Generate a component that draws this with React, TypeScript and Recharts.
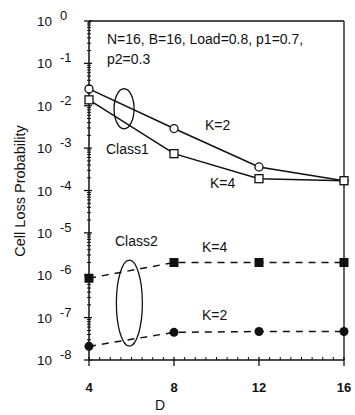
import { Line, LineChart, ReferenceDot, ReferenceLine, XAxis, YAxis } from "recharts";

// Buffer size D on the x axis
const dValues = [4, 8, 12, 16];
const dMajorTicks = [4, 8, 12, 16];

// Cell loss probability
const class1K2 = [0.025, 0.0029, 3.6e-4, 1.7e-4];
const class1K4 = [0.0138, 7.4e-4, 1.9e-4, 1.7e-4];
const class2K4 = [8.5e-7, 2.0e-6, 2.0e-6, 2.0e-6];
const class2K2 = [2.1e-8, 4.5e-8, 4.7e-8, 4.7e-8];

const yExponents = [0, -1, -2, -3, -4, -5, -6, -7, -8];

const rows = dValues.map((d, i) => ({
  d,
  c1k2: class1K2[i],
  c1k4: class1K4[i],
  c2k4: class2K4[i],
  c2k2: class2K2[i],
}));

const W = 355;
const H = 415;
const PLOT_L = 89;
const PLOT_R = 344;
const PLOT_T = 21;
const PLOT_B = 360;
const FONT = "'Liberation Sans', Arial, sans-serif";
const INK = "#111";

// log-minor positions (2..9 x 10^n) plus the decades
const yTicks: number[] = [];
yExponents.forEach((e) => {
  yTicks.push(Math.pow(10, e));
  if (e < 0) {
    for (let k = 2; k <= 9; k++) yTicks.push(k * Math.pow(10, e));
  }
});
const xTicks: number[] = [];
for (let v = 4; v <= 16; v += 0.5) xTicks.push(v);

function YTick(props: any) {
  const { y, payload } = props;
  const v = payload.value as number;
  const e = Math.round(Math.log10(v));
  const major = Math.abs(Math.log10(v) - e) < 1e-6;
  if (!major) {
    return <line x1={PLOT_L - 2} x2={PLOT_L + 2} y1={y} y2={y} stroke={INK} strokeWidth={1} />;
  }
  return (
    <g>
      <line x1={PLOT_L - 5} x2={PLOT_L + 3} y1={y} y2={y} stroke={INK} strokeWidth={1.3} />
      <text x={52} y={y + 5} textAnchor="end" fontSize={13.5} fontFamily={FONT} fill={INK}>
        10
      </text>
      <text x={60} y={y - 1} textAnchor="start" fontSize={13} fontFamily={FONT} fill={INK}>
        {e === 0 ? "0" : `-${-e}`}
      </text>
    </g>
  );
}

function XTick(props: any) {
  const { x, payload } = props;
  const v = payload.value as number;
  if (!dMajorTicks.includes(v)) {
    return <line x1={x} x2={x} y1={PLOT_B - 3} y2={PLOT_B} stroke={INK} strokeWidth={1} />;
  }
  return (
    <g>
      <line x1={x} x2={x} y1={PLOT_B - 3} y2={PLOT_B + 6} stroke={INK} strokeWidth={1.3} />
      <text x={x} y={392} textAnchor="middle" fontSize={13} fontWeight="bold" fontFamily={FONT} fill={INK}>
        {v}
      </text>
    </g>
  );
}

function OpenCircle(props: any) {
  const { cx, cy } = props;
  return <circle cx={cx} cy={cy} r={4} fill="#fff" stroke={INK} strokeWidth={1.3} />;
}
function OpenSquare(props: any) {
  const { cx, cy } = props;
  return <rect x={cx - 4} y={cy - 4} width={8} height={8} fill="#fff" stroke={INK} strokeWidth={1.3} />;
}
function FilledSquare(props: any) {
  const { cx, cy } = props;
  return <rect x={cx - 4.5} y={cy - 4.5} width={9} height={9} fill={INK} />;
}
function FilledCircle(props: any) {
  const { cx, cy } = props;
  return <circle cx={cx} cy={cy} r={4.5} fill={INK} />;
}

function Ellipse(rx: number, ry: number) {
  return (props: any) => (
    <ellipse cx={props.cx} cy={props.cy} rx={rx} ry={ry} fill="none" stroke={INK} strokeWidth={1.3} />
  );
}

const note = (left: number, top: number, text: string) => (
  <div
    style={{
      position: "absolute",
      left,
      top,
      fontFamily: FONT,
      fontSize: 14,
      lineHeight: "16px",
      color: INK,
      whiteSpace: "nowrap",
    }}
  >
    {text}
  </div>
);

export default function App() {
  return (
    <div style={{ position: "absolute", left: 0, top: 0, width: W, height: H, background: "#fff" }}>
      <LineChart
        width={W}
        height={H}
        data={rows}
        margin={{ top: PLOT_T, right: W - PLOT_R, bottom: 25, left: 29 }}
      >
        <XAxis
          dataKey="d"
          type="number"
          domain={[4, 16]}
          ticks={xTicks}
          interval={0}
          tick={<XTick />}
          tickLine={false}
          axisLine={{ stroke: INK, strokeWidth: 1.5 }}
          height={30}
        />
        <YAxis
          scale="log"
          domain={[1e-8, 1]}
          ticks={yTicks}
          interval={0}
          tick={<YTick />}
          tickLine={false}
          axisLine={{ stroke: INK, strokeWidth: 1.5 }}
          width={60}
          allowDataOverflow
        />
        <ReferenceLine y={1} stroke={INK} strokeWidth={1.3} />
        <ReferenceLine x={16} stroke={INK} strokeWidth={1.3} />
        <ReferenceDot x={5.65} y={8.5e-3} r={0} shape={Ellipse(10, 20)} />
        <ReferenceDot x={5.9} y={2.2e-7} r={0} shape={Ellipse(13, 43)} />
        <Line dataKey="c1k2" stroke={INK} strokeWidth={1.5} dot={<OpenCircle />} isAnimationActive={false} />
        <Line dataKey="c1k4" stroke={INK} strokeWidth={1.5} dot={<OpenSquare />} isAnimationActive={false} />
        <Line
          dataKey="c2k4"
          stroke={INK}
          strokeWidth={1.5}
          strokeDasharray="7 6"
          dot={<FilledSquare />}
          isAnimationActive={false}
        />
        <Line
          dataKey="c2k2"
          stroke={INK}
          strokeWidth={1.5}
          strokeDasharray="7 6"
          dot={<FilledCircle />}
          isAnimationActive={false}
        />
      </LineChart>

      {note(107, 31, "N=16, B=16, Load=0.8, p1=0.7,")}
      {note(107, 51, "p2=0.3")}
      {note(205, 117, "K=2")}
      {note(106, 141, "Class1")}
      {note(210, 175, "K=4")}
      {note(115, 233, "Class2")}
      {note(202, 239, "K=4")}
      {note(202, 307, "K=2")}

      <div
        style={{
          position: "absolute",
          left: 20,
          top: 191,
          transform: "translate(-50%, -50%) rotate(-90deg)",
          fontFamily: FONT,
          fontSize: 14.5,
          color: INK,
          whiteSpace: "nowrap",
        }}
      >
        Cell Loss Probability
      </div>
      <div
        style={{
          position: "absolute",
          left: 160,
          top: 397,
          transform: "translateX(-50%)",
          fontFamily: FONT,
          fontSize: 14,
          color: INK,
        }}
      >
        D
      </div>
    </div>
  );
}
